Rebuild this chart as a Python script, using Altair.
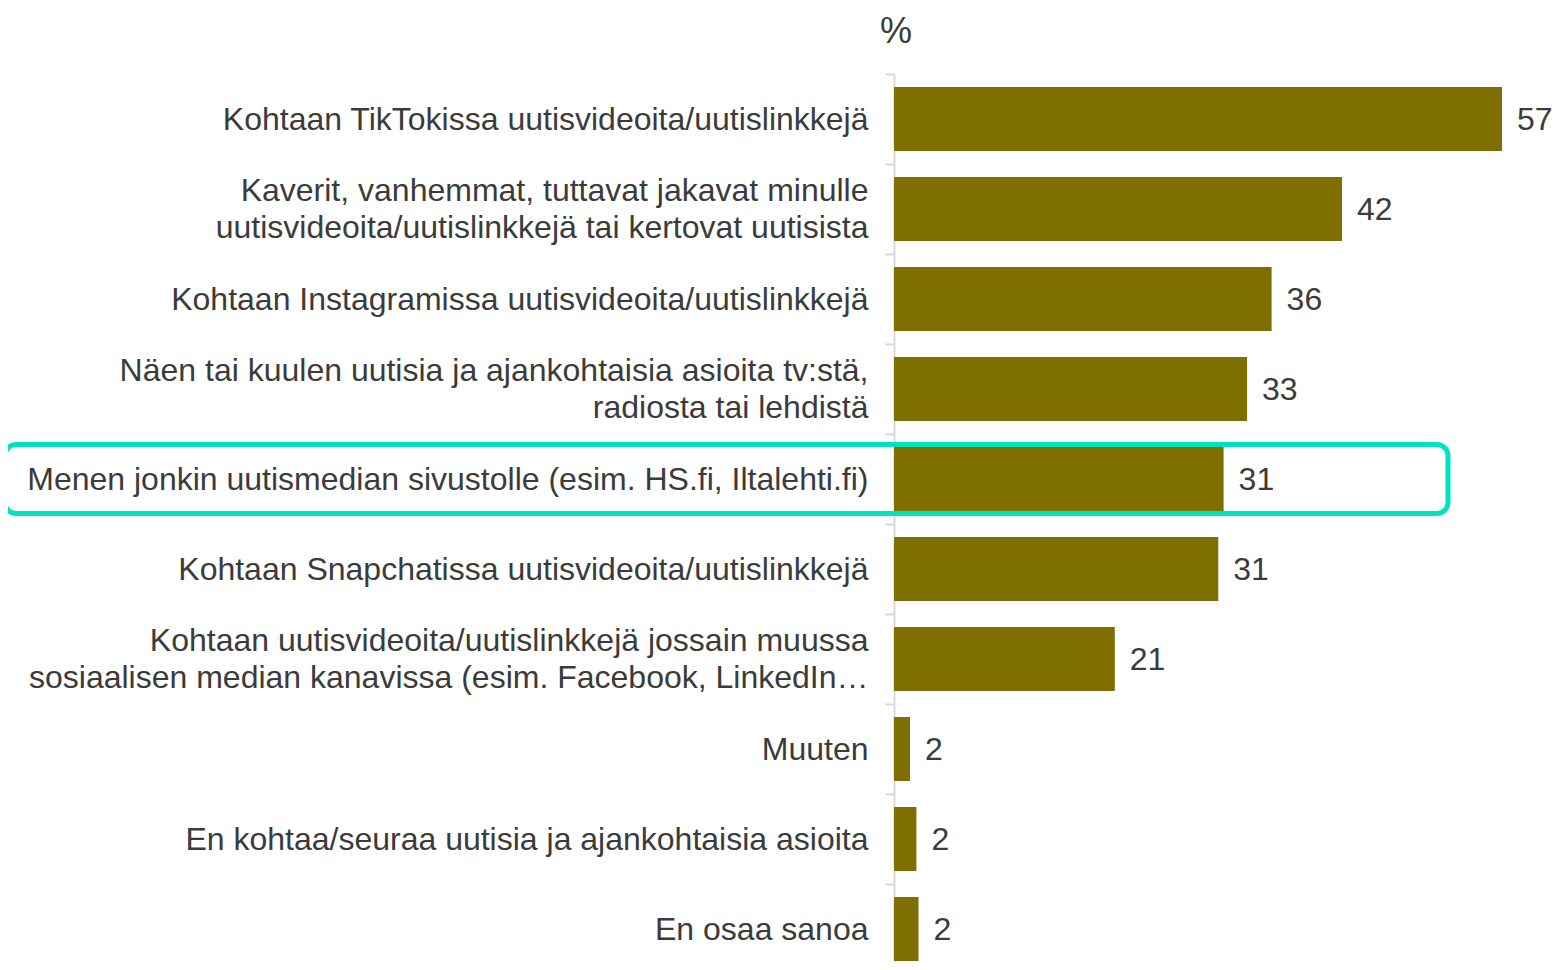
import altair as alt
import pandas as pd

categories = [
    "Kohtaan TikTokissa uutisvideoita/uutislinkkejä",
    "Kaverit, vanhemmat, tuttavat jakavat minulle|uutisvideoita/uutislinkkejä tai kertovat uutisista",
    "Kohtaan Instagramissa uutisvideoita/uutislinkkejä",
    "Näen tai kuulen uutisia ja ajankohtaisia asioita tv:stä,|radiosta tai lehdistä",
    "Menen jonkin uutismedian sivustolle (esim. HS.fi, Iltalehti.fi)",
    "Kohtaan Snapchatissa uutisvideoita/uutislinkkejä",
    "Kohtaan uutisvideoita/uutislinkkejä jossain muussa|sosiaalisen median kanavissa (esim. Facebook, LinkedIn…",
    "Muuten",
    "En kohtaa/seuraa uutisia ja ajankohtaisia asioita",
    "En osaa sanoa",
]
values = [57.0, 42.0, 35.4, 33.1, 30.9, 30.4, 20.7, 1.5, 2.1, 2.3]
value_labels = ["57", "42", "36", "33", "31", "31", "21", "2", "2", "2"]
highlight = [False, False, False, False, True, False, False, False, False, False]
unit_title = ["%"]

df = pd.DataFrame({"cat": categories, "value": values, "label": value_labels, "hl": highlight})

FONT = "Liberation Sans"
TEXT = "#3B3B3B"
BAR = "#7F6F00"
TEAL = "#00E3BE"
GRID = "#D9D9D9"

yenc = alt.Y(
    "cat:N",
    sort=categories,
    title=None,
    scale=alt.Scale(paddingInner=0.289, paddingOuter=0.0778, align=0.93),
    axis=alt.Axis(
        labelExpr="split(datum.label, '|')",
        labelFontSize=32,
        labelFont=FONT,
        labelColor=TEXT,
        labelLimit=900,
        labelPadding=17,
        labelLineHeight=37,
        tickSize=9,
        tickWidth=2,
        tickColor=GRID,
        domainColor=GRID,
        domainWidth=2,
        tickOffset=-45,
        labelOffset={
            "condition": {"test": "indexof(datum.value, '|') >= 0", "value": 26.5},
            "value": 45,
        },
    ),
)
xenc = alt.X("value:Q", scale=alt.Scale(domain=[0, 57], nice=False), axis=None)

base = alt.Chart(df)

bars = base.mark_bar(color=BAR).encode(x=xenc, y=yenc)

vals = base.mark_text(
    align="left", baseline="middle", dx=15, dy=1, fontSize=32, font=FONT, color=TEXT
).encode(x=xenc, y=yenc, text="label:N")

box = base.transform_filter("datum.hl").mark_rect(
    filled=False, stroke=TEAL, strokeWidth=5, cornerRadius=11, height={"band": 1.08}
).encode(y=yenc, x=alt.value(-889), x2=alt.value(554))

pct = alt.Chart(pd.DataFrame({"t": unit_title})).mark_text(
    align="center", baseline="alphabetic", fontSize=36, font=FONT, color=TEXT
).encode(x=alt.value(2), y=alt.value(-31), text="t:N")

chart = alt.layer(bars, vals, box, pct).properties(
    width=608,
    height=888,
    padding={"left": 886, "top": 66, "right": 52, "bottom": 0},
    autosize=alt.AutoSizeParams(type="none"),
).configure(background="white").configure_view(strokeWidth=0, stroke="transparent")

chart.save("out.html", embed_options={"renderer": "svg", "actions": False})
